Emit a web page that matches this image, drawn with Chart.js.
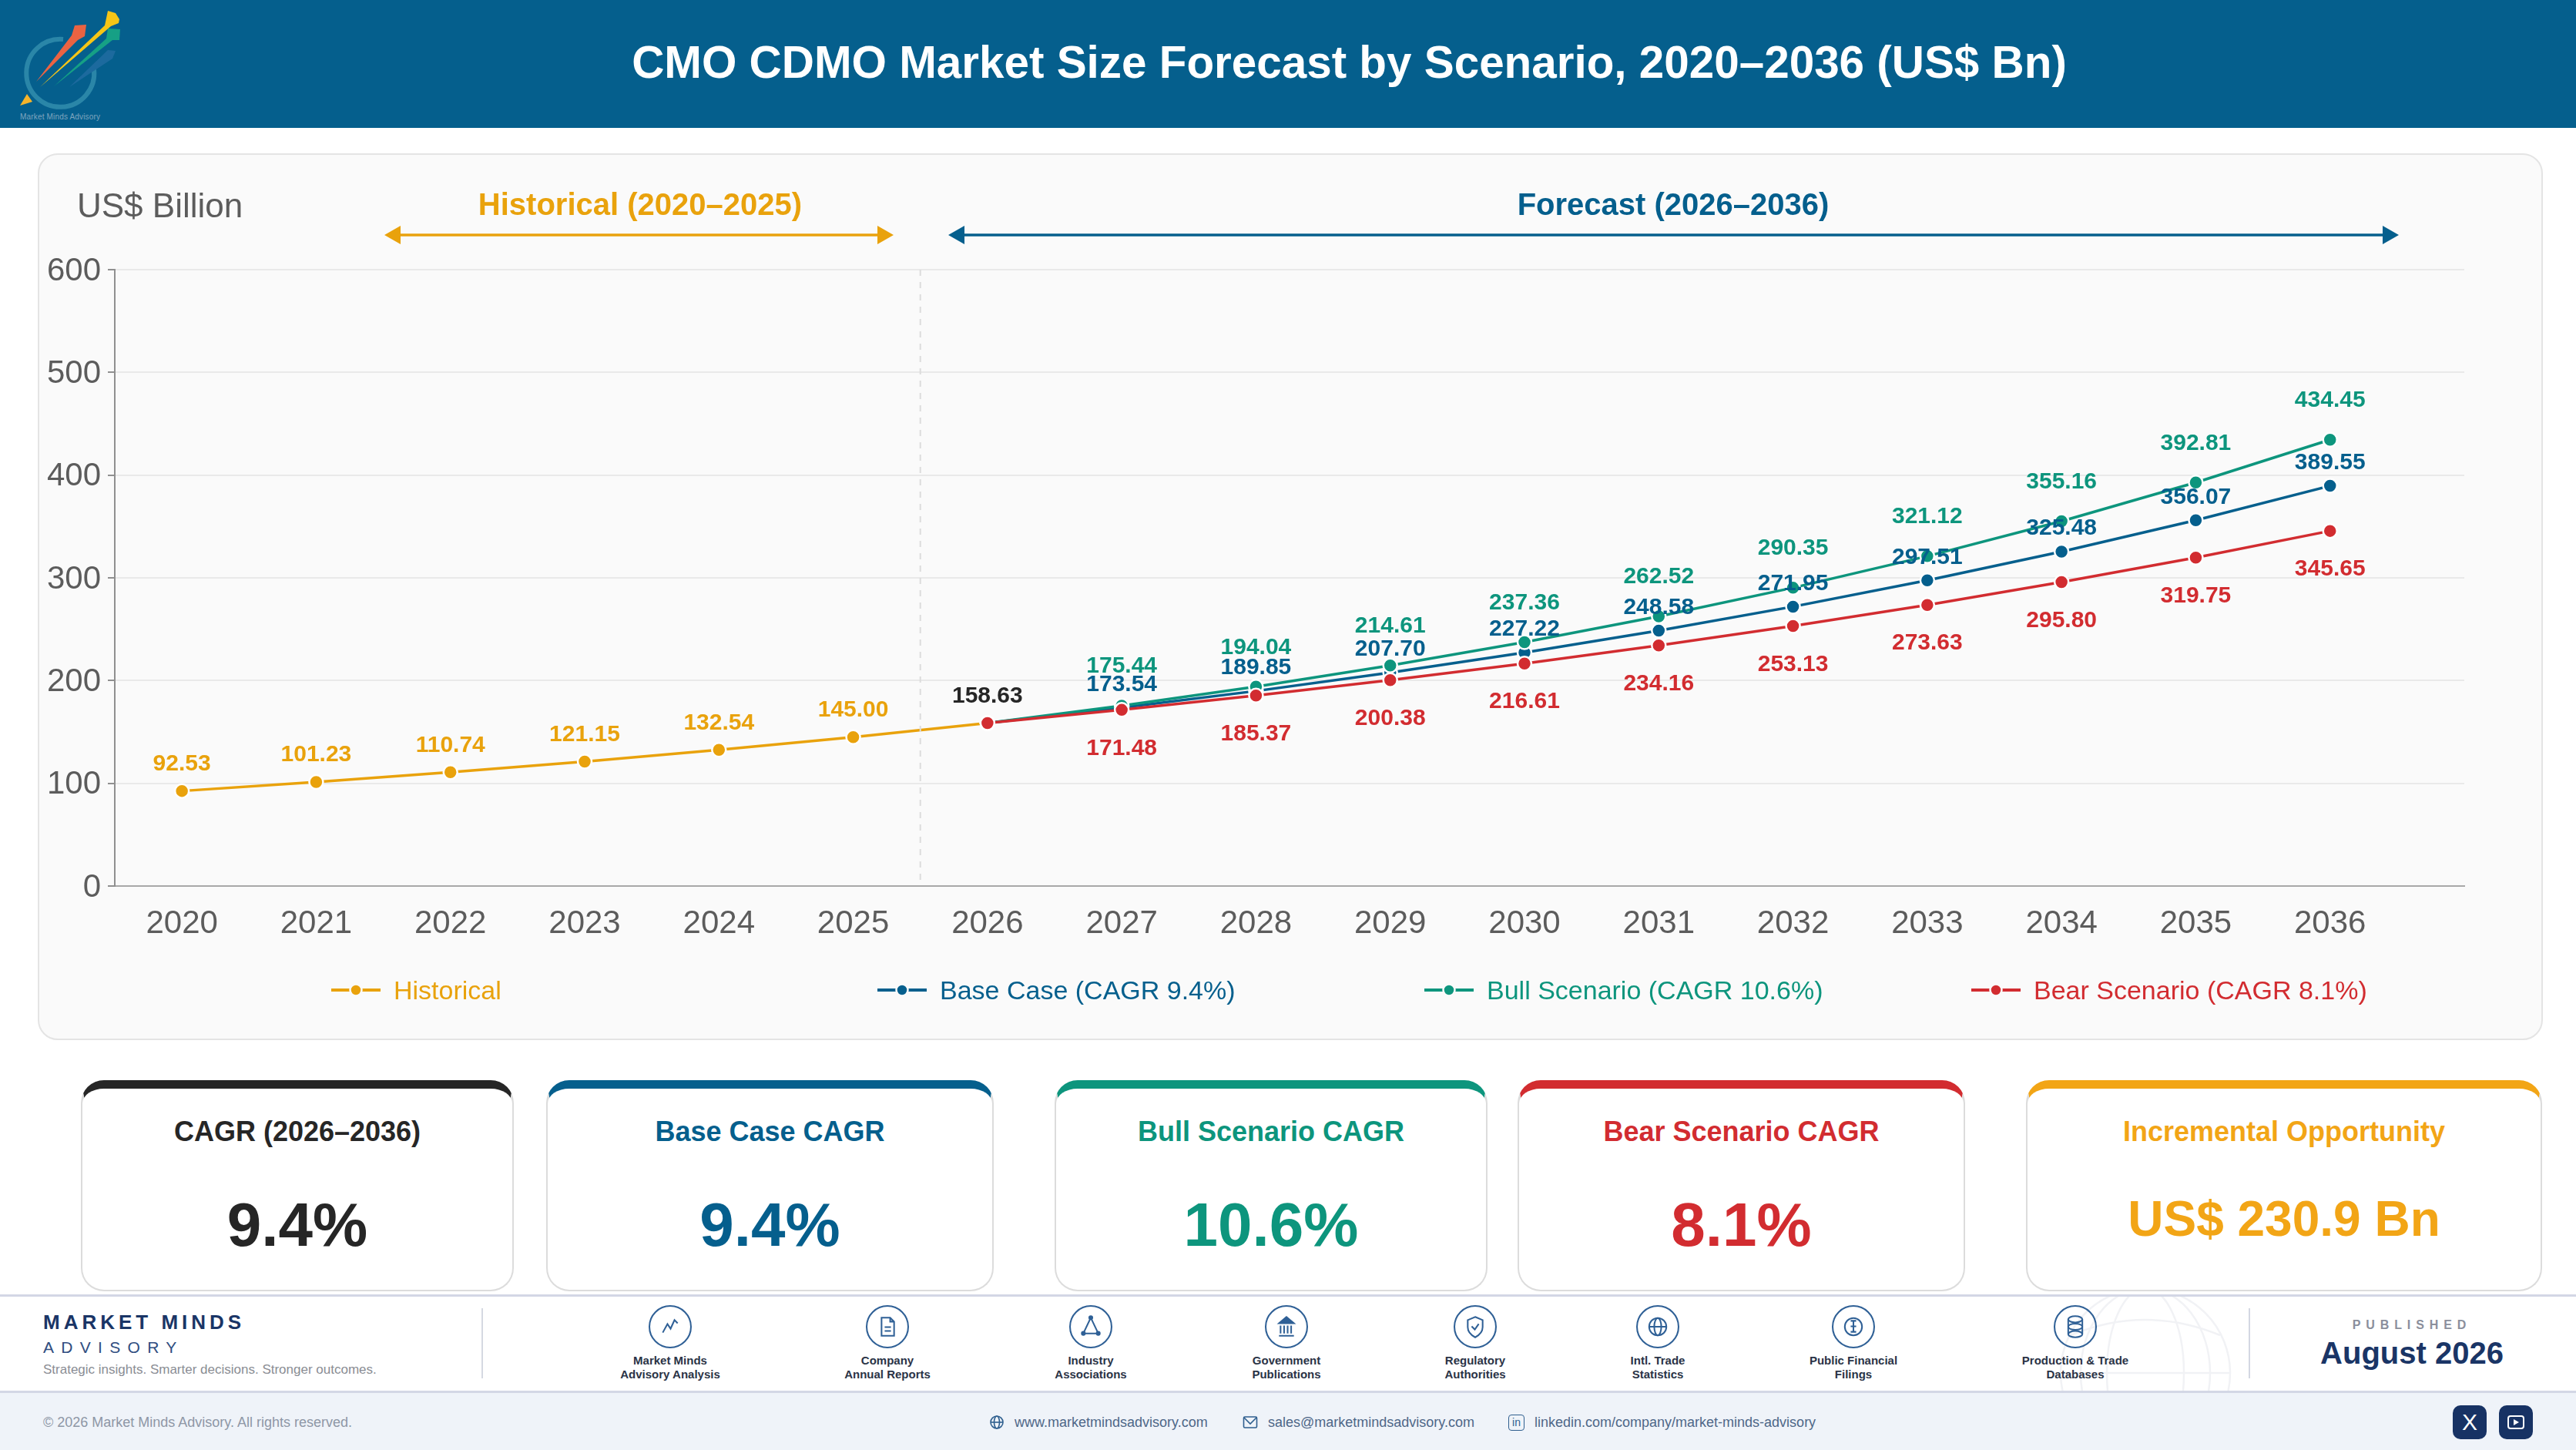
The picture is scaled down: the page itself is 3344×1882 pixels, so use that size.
<!DOCTYPE html>
<html>
<head>
<meta charset="utf-8">
<title>CMO CDMO Market Size Forecast by Scenario</title>
<script src="https://cdn.jsdelivr.net/npm/chart.js@4"></script>
<style>
  * { box-sizing: border-box; }
  html, body { margin: 0; padding: 0; background: #fff; }
  body { position: relative; width: 3344px; height: 1882px; overflow: hidden; font-family: "Liberation Sans", Arial, sans-serif; }
  .abs { position: absolute; }
  #header { left: 0; top: 0; width: 3344px; height: 166px; background: #055f8d; }
  #title { left: 0; top: 46px; width: 3503px; text-align: center; font-size: 58.4px; line-height: 70px; font-weight: bold; color: #fff; white-space: nowrap; }
  #chartCard { left: 49px; top: 199px; width: 3252px; height: 1151px; background: #fafafa; border: 2px solid #e4e4e4; border-radius: 26px; }
  #chartCanvas { left: 49px; top: 199px; }
  .legendItem { top: 1262px; height: 46px; line-height: 46px; font-size: 34px; white-space: nowrap; }
  .kpi { top: 1402px; height: 274px; background: #fff; border: 2px solid #dcdcdc; border-top-width: 11px; border-radius: 30px; text-align: center; }
  .kpiTitle { position: absolute; left: 0; right: 0; top: 34px; font-size: 36px; line-height: 44px; font-weight: bold; }
  .kpiValue { position: absolute; left: 0; right: 0; top: 131px; font-size: 80px; line-height: 92px; font-weight: bold; }
  .kpiValue.small { top: 129px; font-size: 64px; line-height: 80px; }
  #band { left: 0; top: 1680px; width: 3344px; height: 128px; background: #fff; border-top: 3px solid #d3d7e5; border-bottom: 3px solid #d3d7e5; }
  #bottom { left: 0; top: 1808px; width: 3344px; height: 74px; background: #eff3f9; }
  .srcLabel { top: 1757px; width: 260px; text-align: center; font-size: 15px; line-height: 18px; font-weight: bold; color: #2a3346; }
  .contact { top: 1834px; font-size: 18px; line-height: 24px; color: #4e6788; white-space: nowrap; }
  .social { top: 1824px; width: 44px; height: 44px; border-radius: 10px; background: #173264; }
</style>
</head>
<body>
<div id="header" class="abs"></div>
<svg class="abs" style="left:0;top:0" width="170" height="166" viewBox="0 0 170 166">
  <defs><filter id="soft"><feGaussianBlur stdDeviation="0.6"/></filter></defs>
  <g filter="url(#soft)">
    <path d="M82 51 A44 44 0 1 0 122 90" fill="none" stroke="#2c86a8" stroke-width="6"/>
    <polygon points="90,113 140,65 150,66 146,76" fill="#1d6a9e"/>
    <polygon points="70,112 138,50 140,37 156,38 155,52 146,52" fill="#14a085"/>
    <polygon points="52,113 136,33 140,14 150,17 155,25 154,30 144,34" fill="#f6c519"/>
    <polygon points="47,106 93,46 97,33 112,32 110,47 101,52" fill="#ea6343"/>
    <polygon points="35,122 42,132 26,137" fill="#f6b42a"/>
  </g>
  <text x="26" y="155" font-size="10" fill="#7fa5bf" font-family="Liberation Sans" textLength="104">Market Minds Advisory</text>
</svg>
<div id="title" class="abs">CMO CDMO Market Size Forecast by Scenario, 2020–2036 (US$ Bn)</div>

<div id="chartCard" class="abs"></div>
<canvas id="chartCanvas" class="abs" width="3252" height="1151"></canvas>
<div id="legendRow"></div>
<div id="kpiRow"></div>

<div id="band" class="abs"></div>
<svg class="abs" style="left:2660px;top:1683px" width="250" height="122" viewBox="0 0 250 122" fill="none" stroke="#f1f2f5" stroke-width="2.5">
  <circle cx="125" cy="99" r="110"/>
  <ellipse cx="125" cy="99" rx="50" ry="110"/>
  <ellipse cx="125" cy="99" rx="84" ry="110"/>
  <path d="M15 99 H235 M28 50 Q125 10 222 50"/>
</svg>
<div class="abs" style="left:56px;top:1700px;font-size:26px;line-height:32px;font-weight:bold;letter-spacing:5px;color:#1a3566">MARKET MINDS</div>
<div class="abs" style="left:56px;top:1736px;font-size:21px;line-height:26px;letter-spacing:9.3px;color:#2f4d80">ADVISORY</div>
<div class="abs" style="left:56px;top:1767px;font-size:17px;line-height:22px;color:#8a8d94">Strategic insights. Smarter decisions. Stronger outcomes.</div>
<div class="abs" style="left:625px;top:1698px;width:2px;height:91px;background:#d5d9e2"></div>
<div id="sourceRow"></div>
<div class="abs" style="left:2919px;top:1698px;width:2px;height:91px;background:#d3d7e2"></div>
<div class="abs" style="left:2930px;width:402px;top:1709px;text-align:center;font-size:16px;line-height:22px;font-weight:bold;letter-spacing:6.9px;color:#8b8f9c">PUBLISHED</div>
<div class="abs" style="left:2930px;width:402px;top:1732px;text-align:center;font-size:40px;line-height:48px;font-weight:bold;color:#1a3566">August 2026</div>

<div id="bottom" class="abs"></div>
<div class="abs" style="left:56px;top:1834px;font-size:18px;line-height:24px;color:#8e97a6">© 2026 Market Minds Advisory. All rights reserved.</div>
<svg class="abs" style="left:1284px;top:1836px" width="20" height="20" viewBox="0 0 20 20" fill="none" stroke="#2f5f8f" stroke-width="1.6"><circle cx="10" cy="10" r="8"/><ellipse cx="10" cy="10" rx="3.5" ry="8"/><path d="M2 10 H18"/></svg>
<div class="abs contact" style="left:1317px">www.marketmindsadvisory.com</div>
<svg class="abs" style="left:1613px;top:1836px" width="20" height="20" viewBox="0 0 20 20" fill="none" stroke="#2f5f8f" stroke-width="1.6"><rect x="1.5" y="3" width="17" height="14" rx="1.5"/><path d="M2 4 L10 12 L18 4"/></svg>
<div class="abs contact" style="left:1646px">sales@marketmindsadvisory.com</div>
<div class="abs" style="left:1958px;top:1836px;width:21px;height:21px;border:1.6px solid #2f5f8f;border-radius:4px;font-size:14px;line-height:18px;text-align:center;color:#2f5f8f">in</div>
<div class="abs contact" style="left:1992px">linkedin.com/company/market-minds-advisory</div>
<div class="abs social" style="left:3184px;color:#fff;font-size:30px;line-height:44px;text-align:center">X</div>
<div class="abs social" style="left:3244px">
  <svg width="44" height="44" viewBox="0 0 44 44" fill="none" stroke="#fff" stroke-width="2"><rect x="12" y="14" width="20" height="16" rx="3"/><polygon points="19,18 19,26 26,22" fill="#fff" stroke="none"/></svg>
</div>

<script>
// Chart data
const histYears = [2020, 2021, 2022, 2023, 2024, 2025, 2026];
const histValues = [92.53, 101.23, 110.74, 121.15, 132.54, 145.00, 158.63];
const forecastYears = [2026, 2027, 2028, 2029, 2030, 2031, 2032, 2033, 2034, 2035, 2036];
const baseValues = [158.63, 173.54, 189.85, 207.70, 227.22, 248.58, 271.95, 297.51, 325.48, 356.07, 389.55];
const bullValues = [158.63, 175.44, 194.04, 214.61, 237.36, 262.52, 290.35, 321.12, 355.16, 392.81, 434.45];
const bearValues = [158.63, 171.48, 185.37, 200.38, 216.61, 234.16, 253.13, 273.63, 295.80, 319.75, 345.65];
const tickYears = [2020, 2021, 2022, 2023, 2024, 2025, 2026, 2027, 2028, 2029, 2030, 2031, 2032, 2033, 2034, 2035, 2036];

const seriesNames = ['Historical', 'Base Case (CAGR 9.4%)', 'Bull Scenario (CAGR 10.6%)', 'Bear Scenario (CAGR 8.1%)'];
const kpiTitles = ['CAGR (2026–2036)', 'Base Case CAGR', 'Bull Scenario CAGR', 'Bear Scenario CAGR', 'Incremental Opportunity'];
const kpiValues = ['9.4%', '9.4%', '10.6%', '8.1%', 'US$ 230.9 Bn'];
const sourceLabels = [
  ['Market Minds', 'Advisory Analysis'], ['Company', 'Annual Reports'], ['Industry', 'Associations'],
  ['Government', 'Publications'], ['Regulatory', 'Authorities'], ['Intl. Trade', 'Statistics'],
  ['Public Financial', 'Filings'], ['Production & Trade', 'Databases'],
];

// Styles
const AMBER = '#e9a20c';
const BLUE = '#055f8d';
const GREEN = '#0d957d';
const RED = '#d22c30';
const DARK = '#262626';
const FONT = '"Liberation Sans", Arial, sans-serif';
const seriesColors = [AMBER, BLUE, GREEN, RED];
const kpiColors = [DARK, BLUE, GREEN, RED, '#f2a516'];
const kpiLefts = [105, 709, 1369, 1970, 2630];
const kpiWidths = [562, 581, 562, 581, 670];
const legendLefts = [430, 1139, 1849, 2559];
const sourceCenters = [870, 1152, 1416, 1670, 1915, 2152, 2406, 2694];
const sourceIcons = [
  '<path d="M18 35 L24 24 L28 30 L33 19 L37 23"/>',
  '<path d="M20 16 H31 L36 21 V39 H20 Z M31 16 V21 H36 M24 28 H32 M24 33 H32"/>',
  '<path d="M27.500 16 L18 36 H37 Z"/><circle cx="27.500" cy="16" r="2" fill="#2f6096"/><circle cx="18" cy="36" r="2" fill="#2f6096"/><circle cx="37" cy="36" r="2" fill="#2f6096"/>',
  '<polygon points="27.500,15 18,23 37,23" fill="#2f6096"/><path d="M20 26 V36 M24.500 26 V36 M29 26 V36 M33.500 26 V36 M18 39 H37"/>',
  '<path d="M27.500 15 L37 19 V28 Q37 36 27.500 41 Q18 36 18 28 V19 Z M23 27 L27 31 L32 24"/>',
  '<circle cx="27.500" cy="27.500" r="11"/><ellipse cx="27.500" cy="27.500" rx="4.500" ry="11"/><path d="M16.500 27.500 H38.500"/>',
  '<circle cx="27.500" cy="27.500" r="11"/><path d="M24 20 H31 M27.500 20 V34 M24 34 H31 M24 27 H31"/>',
  '<ellipse cx="27.500" cy="18" rx="9" ry="4"/><ellipse cx="27.500" cy="27.500" rx="9" ry="4"/><ellipse cx="27.500" cy="37" rx="9" ry="4"/><path d="M18.500 18 V37 M36.500 18 V37"/>',
];

function toPoints(years, values) {
  return years.map((year, i) => ({ x: year, y: values[i] }));
}

function lineDataset(index, years, values, order) {
  return {
    label: seriesNames[index],
    data: toPoints(years, values),
    borderColor: seriesColors[index],
    backgroundColor: seriesColors[index],
    borderWidth: 3.5,
    pointRadius: 9,
    pointBorderWidth: 2.5,
    pointBorderColor: '#ffffff',
    pointBackgroundColor: seriesColors[index],
    tension: 0,
    order: order,
  };
}

// Value labels, offset from each marker (px, negative is up)
const labelOffsets = [-35, -30, -51, 50];

// Draws the value labels, period divider and the two period arrows
const annotationPlugin = {
  id: 'annotations',
  afterDatasetsDraw(chart) {
    const ctx = chart.ctx;
    const xScale = chart.scales.x;
    const yScale = chart.scales.y;
    ctx.save();

    // Divider between historical and forecast
    ctx.strokeStyle = '#dcdcdc';
    ctx.lineWidth = 2;
    ctx.setLineDash([8, 8]);
    ctx.beginPath();
    ctx.moveTo(xScale.getPixelForValue(2025.5), yScale.getPixelForValue(600));
    ctx.lineTo(xScale.getPixelForValue(2025.5), yScale.getPixelForValue(0));
    ctx.stroke();
    ctx.setLineDash([]);

    // Value labels
    ctx.font = 'bold 30px ' + FONT;
    ctx.textAlign = 'center';
    ctx.textBaseline = 'middle';
    chart.data.datasets.forEach((dataset, d) => {
      chart.getDatasetMeta(d).data.forEach((point, i) => {
        const year = dataset.data[i].x;
        if (year === 2026 && d > 0) return; // shared start, labelled once
        ctx.fillStyle = year === 2026 ? DARK : seriesColors[d];
        ctx.fillText(dataset.data[i].y.toFixed(2), point.x, point.y + labelOffsets[d]);
      });
    });

    // Header labels above the plot (card-relative px)
    ctx.font = '44px ' + FONT;
    ctx.fillStyle = '#5c5c5c';
    ctx.textAlign = 'left';
    ctx.fillText('US$ Billion', 51, 71);
    ctx.textAlign = 'center';
    ctx.font = 'bold 40px ' + FONT;
    ctx.fillStyle = AMBER;
    ctx.fillText('Historical (2020–2025)', 782, 69);
    ctx.fillStyle = BLUE;
    ctx.fillText('Forecast (2026–2036)', 2123, 69);
    drawArrow(ctx, 450, 1111, 106, AMBER);
    drawArrow(ctx, 1182, 3065, 106, BLUE);
    ctx.restore();
  },
};

function drawArrow(ctx, x1, x2, y, color) {
  ctx.strokeStyle = color;
  ctx.fillStyle = color;
  ctx.lineWidth = 3.5;
  ctx.beginPath();
  ctx.moveTo(x1 + 15, y);
  ctx.lineTo(x2 - 15, y);
  ctx.stroke();
  ctx.beginPath();
  ctx.moveTo(x1, y);
  ctx.lineTo(x1 + 21, y - 12);
  ctx.lineTo(x1 + 21, y + 12);
  ctx.closePath();
  ctx.moveTo(x2, y);
  ctx.lineTo(x2 - 21, y - 12);
  ctx.lineTo(x2 - 21, y + 12);
  ctx.closePath();
  ctx.fill();
}

const chart = new Chart(document.getElementById('chartCanvas').getContext('2d'), {
  type: 'line',
  data: {
    datasets: [
      lineDataset(0, histYears, histValues, 4),
      lineDataset(1, forecastYears, baseValues, 3),
      lineDataset(2, forecastYears, bullValues, 2),
      lineDataset(3, forecastYears, bearValues, 1),
    ],
  },
  options: {
    responsive: false,
    devicePixelRatio: 1,
    animation: false,
    layout: { padding: { top: 151, right: 102, left: 0, bottom: 0 } },
    plugins: { legend: { display: false }, tooltip: { enabled: false } },
    scales: {
      x: {
        type: 'linear',
        min: 2019.5,
        max: 2037,
        afterBuildTicks(axis) { axis.ticks = tickYears.map((year) => ({ value: year })); },
        afterFit(axis) { axis.height = 200; },
        grid: { display: false },
        border: { color: '#a8a8a8', width: 2 },
        ticks: {
          callback: (value) => String(value),
          font: { family: FONT, size: 42 },
          color: '#5c5c5c',
          padding: 16,
          maxRotation: 0,
          autoSkip: false,
        },
      },
      y: {
        min: 0,
        max: 600,
        afterFit(axis) { axis.width = 100; },
        grid: { color: '#e9e9e9', lineWidth: 2, tickColor: '#909090', tickLength: 9, tickWidth: 2 },
        border: { color: '#909090', width: 2 },
        ticks: {
          stepSize: 100,
          font: { family: FONT, size: 42 },
          color: '#5c5c5c',
          padding: 9,
          labelOffset: 2,
        },
      },
    },
  },
  plugins: [annotationPlugin],
});

// HTML legend on a fixed column grid, built from the chart's datasets
const legendRow = document.getElementById('legendRow');
chart.data.datasets.forEach((dataset, i) => {
  const color = seriesColors[i];
  legendRow.insertAdjacentHTML('beforeend',
    `<svg class="abs" style="left:${legendLefts[i]}px;top:1273px" width="64" height="24" viewBox="0 0 64 24">
       <path d="M0 12 H64" stroke="${color}" stroke-width="4"/>
       <circle cx="32" cy="12" r="7.500" fill="${color}" stroke="#fafafa" stroke-width="2.500"/>
     </svg>
     <div class="abs legendItem" style="left:${legendLefts[i] + 81}px;color:${color}">${dataset.label}</div>`);
});

// KPI cards
const kpiRow = document.getElementById('kpiRow');
kpiTitles.forEach((title, i) => {
  const small = i === kpiTitles.length - 1 ? ' small' : '';
  kpiRow.insertAdjacentHTML('beforeend',
    `<div class="abs kpi" style="left:${kpiLefts[i]}px;width:${kpiWidths[i]}px;border-top-color:${kpiColors[i]}">
       <div class="kpiTitle" style="color:${kpiColors[i]}">${title}</div>
       <div class="kpiValue${small}" style="color:${kpiColors[i]}">${kpiValues[i]}</div>
     </div>`);
});

// Source icons along the footer band
const sourceRow = document.getElementById('sourceRow');
sourceLabels.forEach((lines, i) => {
  const center = sourceCenters[i];
  sourceRow.insertAdjacentHTML('beforeend',
    `<svg class="abs" style="left:${center - 28}px;top:1694px" width="56" height="56" viewBox="0 0 55 55" fill="none" stroke="#2f6096" stroke-width="2">
       <circle cx="27.500" cy="27.500" r="26.500"/>${sourceIcons[i]}
     </svg>
     <div class="abs srcLabel" style="left:${center - 130}px">${lines[0].replace('&', '&amp;')}<br>${lines[1]}</div>`);
});
</script>
</body>
</html>
